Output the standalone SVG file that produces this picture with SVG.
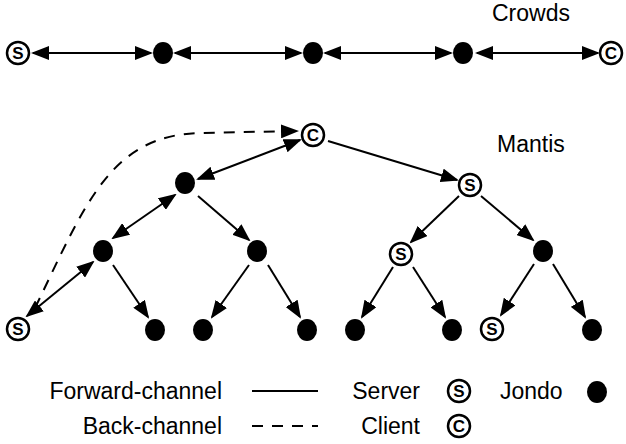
<svg xmlns="http://www.w3.org/2000/svg" width="626" height="444" viewBox="0 0 626 444">
<defs>
<marker id="ah" viewBox="0 0 18 14" refX="16" refY="7" markerWidth="18" markerHeight="14" markerUnits="userSpaceOnUse" orient="auto-start-reverse">
<path d="M0,0 L18,7 L0,14 z" fill="#000"/>
</marker>
<style>
.lbl{font-family:"Liberation Sans",Arial,sans-serif;font-size:23px;fill:#000}
.ic{font-family:"Liberation Sans",Arial,sans-serif;font-size:17px;font-weight:bold;fill:#000;text-anchor:middle}
.ring{fill:#fff;stroke:#000;stroke-width:2.5}
.dot{fill:#000}
.fw{stroke:#000;stroke-width:2;fill:none;marker-end:url(#ah)}
.bi{stroke:#000;stroke-width:2;fill:none;marker-end:url(#ah);marker-start:url(#ah)}
.bk{stroke:#000;stroke-width:2;fill:none;stroke-dasharray:11 9}
</style>
</defs>
<rect width="626" height="444" fill="#fff"/>

<g id="connectors">
<line class="bi" x1="33" y1="53" x2="151" y2="53"/>
<line class="bi" x1="175" y1="53" x2="301" y2="53"/>
<line class="bi" x1="325" y1="53" x2="451" y2="53"/>
<line class="bi" x1="477" y1="53" x2="598" y2="53"/>

<path class="bk" d="M35,308 C85,205 110,135 200,133 L297,131" marker-end="url(#ah)"/>
<line class="bi" x1="300" y1="140" x2="198" y2="179"/>
<line class="fw" x1="328" y1="141" x2="457" y2="180"/>
<line class="fw" x1="459" y1="196" x2="411" y2="242"/>
<line class="fw" x1="481" y1="196" x2="533" y2="240"/>
<line class="fw" x1="393" y1="267" x2="362" y2="317"/>
<line class="fw" x1="413" y1="267" x2="445" y2="317"/>
<line class="fw" x1="534" y1="264" x2="501" y2="315"/>
<line class="fw" x1="553" y1="264" x2="585" y2="317"/>
<line class="bi" x1="175" y1="195" x2="113" y2="238"/>
<line class="fw" x1="198" y1="196" x2="249" y2="240"/>
<line class="bi" x1="93" y1="262" x2="27" y2="316"/>
<line class="fw" x1="113" y1="265" x2="148" y2="317"/>
<line class="fw" x1="249" y1="265" x2="212" y2="317"/>
<line class="fw" x1="268" y1="265" x2="300" y2="317"/>
</g>

<g id="crowds-s"><circle class="ring" cx="18" cy="53" r="11"/><text class="ic" x="18" y="59">S</text></g>
<g id="crowds-j1"><ellipse class="dot" cx="163" cy="53" rx="10" ry="11"/></g>
<g id="crowds-j2"><ellipse class="dot" cx="313" cy="53" rx="10" ry="11"/></g>
<g id="crowds-j3"><ellipse class="dot" cx="463" cy="53" rx="10" ry="11"/></g>
<g id="crowds-c"><circle class="ring" cx="611" cy="53" r="11"/><text class="ic" x="611" y="59">C</text></g>
<g id="crowds-label"><text class="lbl" x="492" y="21">Crowds</text></g>

<g id="mantis-label"><text class="lbl" x="497" y="152">Mantis</text></g>
<g id="m-client"><circle class="ring" cx="313" cy="135" r="11"/><text class="ic" x="313" y="141">C</text></g>
<g id="m-server-root"><circle class="ring" cx="470" cy="185" r="11"/><text class="ic" x="470" y="191">S</text></g>
<g id="m-ja"><ellipse class="dot" cx="185" cy="183" rx="10" ry="11"/></g>
<g id="m-jb"><ellipse class="dot" cx="103" cy="251" rx="10" ry="11"/></g>
<g id="m-jc"><ellipse class="dot" cx="257" cy="251" rx="10" ry="11"/></g>
<g id="m-s2"><circle class="ring" cx="401" cy="254" r="11"/><text class="ic" x="401" y="260">S</text></g>
<g id="m-jd"><ellipse class="dot" cx="543" cy="251" rx="10" ry="11"/></g>
<g id="m-leaf1"><circle class="ring" cx="18" cy="329" r="11"/><text class="ic" x="18" y="335">S</text></g>
<g id="m-leaf2"><ellipse class="dot" cx="155" cy="330" rx="10" ry="11"/></g>
<g id="m-leaf3"><ellipse class="dot" cx="203" cy="330" rx="10" ry="11"/></g>
<g id="m-leaf4"><ellipse class="dot" cx="307" cy="330" rx="10" ry="11"/></g>
<g id="m-leaf5"><ellipse class="dot" cx="355" cy="330" rx="10" ry="11"/></g>
<g id="m-leaf6"><ellipse class="dot" cx="452" cy="330" rx="10" ry="11"/></g>
<g id="m-leaf7"><circle class="ring" cx="492" cy="329" r="11"/><text class="ic" x="492" y="335">S</text></g>
<g id="m-leaf8"><ellipse class="dot" cx="592" cy="330" rx="10" ry="11"/></g>

<g id="legend">
<text class="lbl" x="222" y="399" text-anchor="end">Forward-channel</text>
<line x1="252" y1="391" x2="318" y2="391" stroke="#000" stroke-width="2"/>
<text class="lbl" x="222" y="434" text-anchor="end">Back-channel</text>
<line class="bk" x1="252" y1="426" x2="318" y2="426"/>
<text class="lbl" x="420" y="399" text-anchor="end">Server</text>
<circle class="ring" cx="459" cy="391" r="11"/><text class="ic" x="459" y="397">S</text>
<text class="lbl" x="420" y="434" text-anchor="end">Client</text>
<circle class="ring" cx="459" cy="426" r="11"/><text class="ic" x="459" y="432">C</text>
<text class="lbl" x="500" y="399">Jondo</text>
<ellipse class="dot" cx="597" cy="392" rx="10" ry="11"/>
</g>
</svg>
